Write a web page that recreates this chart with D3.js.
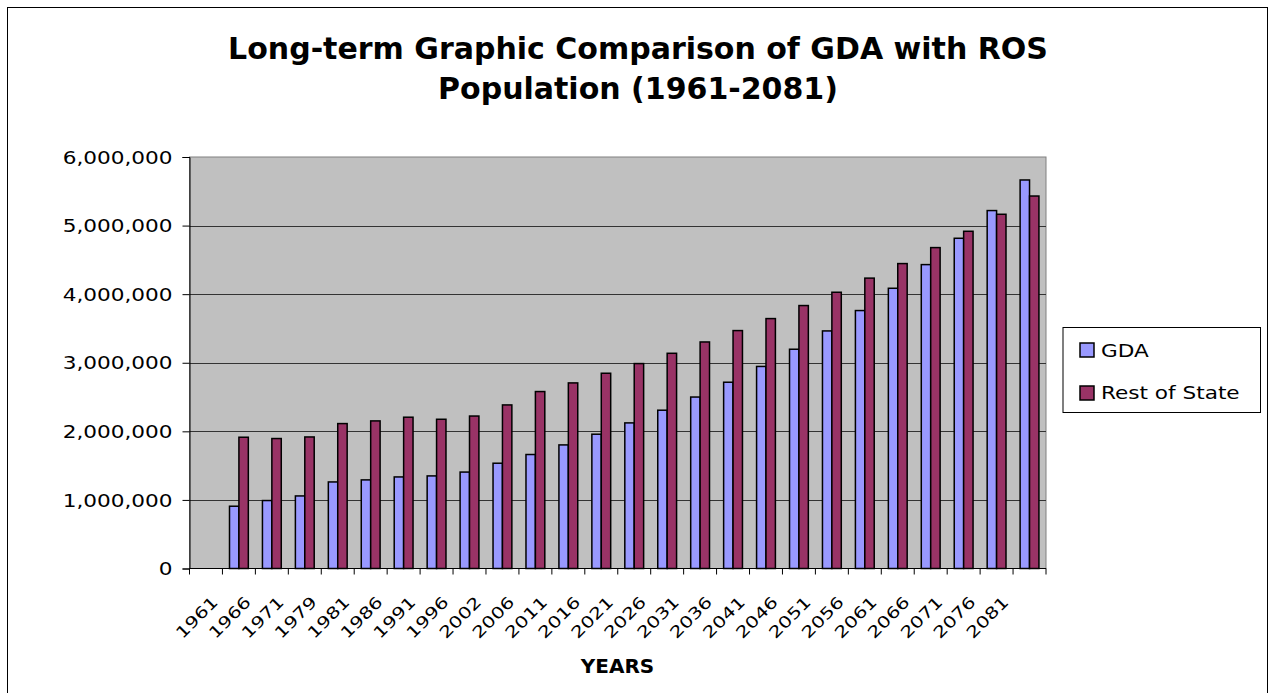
<!DOCTYPE html>
<html>
<head>
<meta charset="utf-8">
<script src="https://cdn.jsdelivr.net/npm/d3@7"></script>
<style>
  html, body { margin: 0; padding: 0; background: #fff; }
  svg { display: block; }
  text { font-family: "DejaVu Sans", Verdana, sans-serif; }
</style>
</head>
<body>
<div id="chart"></div>
<script>
// ---- data ----
// The source chart has 26 category slots: 25 year labels plus an empty last slot,
// with the series starting in the second slot (first slot empty).
const categories = ["1961","1966","1971","1979","1981","1986","1991","1996","2002","2006",
  "2011","2016","2021","2026","2031","2036","2041","2046","2051","2056",
  "2061","2066","2071","2076","2081",""];
const gda = [null, 908000, 991000, 1058000, 1262000, 1292000, 1335000, 1350000, 1406000, 1535000,
  1662000, 1802000, 1958000, 2123000, 2308000, 2500000, 2716000, 2946000, 3197000, 3464000,
  3761000, 4086000, 4431000, 4815000, 5219000, 5665000];
const restOfState = [null, 1914000, 1895000, 1918000, 2113000, 2152000, 2206000, 2176000, 2223000, 2385000,
  2580000, 2706000, 2847000, 2988000, 3138000, 3303000, 3469000, 3644000, 3834000, 4028000,
  4234000, 4446000, 4679000, 4917000, 5165000, 5431000];
const seriesNames = ["GDA", "Rest of State"];
const seriesColors = ["#9999FF", "#993366"];
const yTicks = [0, 1000000, 2000000, 3000000, 4000000, 5000000, 6000000];
const titleLines = ["Long-term Graphic Comparison of GDA with ROS", "Population (1961-2081)"];
const xTitle = "YEARS";

// ---- layout ----
const W = 1269, H = 693;
const plot = { left: 189.5, right: 1046, top: 157, bottom: 568.5 };
const SX = 1.27; // regular font is wider than DejaVu Sans

const svg = d3.select("#chart").append("svg").attr("width", W).attr("height", H);
svg.append("rect").attr("width", W).attr("height", H).attr("fill", "#fff");
svg.append("rect").attr("x", 7.5).attr("y", 7.5).attr("width", 1260).attr("height", 700)
  .attr("fill", "none").attr("stroke", "#000").attr("stroke-width", 1);

const x = d3.scaleBand().domain(categories).range([plot.left, plot.right]).padding(0);
const xs = d3.scaleBand().domain(seriesNames).range([0, x.bandwidth()])
  .paddingInner(0).paddingOuter(0.75);
const y = d3.scaleLinear().domain([0, 6000000]).range([plot.bottom, plot.top]);

// plot background
svg.append("rect").attr("x", plot.left).attr("y", plot.top)
  .attr("width", plot.right - plot.left).attr("height", plot.bottom - plot.top)
  .attr("fill", "#C0C0C0").attr("stroke", "#808080").attr("stroke-width", 1);

// gridlines
svg.append("g").selectAll("line").data(yTicks.filter(d => d > 0 && d < 6000000)).join("line")
  .attr("x1", plot.left).attr("x2", plot.right)
  .attr("y1", d => Math.round(y(d)) + 0.5).attr("y2", d => Math.round(y(d)) + 0.5)
  .attr("stroke", "#333").attr("stroke-width", 1);

// bars
const series = [gda, restOfState];
series.forEach((vals, si) => {
  svg.append("g").selectAll("rect")
    .data(categories.map((c, i) => ({ c, v: vals[i] })).filter(d => d.v != null))
    .join("rect")
    .attr("x", d => x(d.c) + xs(seriesNames[si]))
    .attr("width", xs.bandwidth())
    .attr("y", d => y(d.v))
    .attr("height", d => y(0) - y(d.v))
    .attr("fill", seriesColors[si])
    .attr("stroke", "#000").attr("stroke-width", 1.5);
});

// y axis
const yAxis = svg.append("g").attr("transform", `translate(${plot.left},0)`)
  .call(d3.axisLeft(y).tickValues(yTicks).tickFormat(d3.format(",")).tickSize(7).tickPadding(10));
yAxis.select(".domain").attr("stroke", "#000");
yAxis.selectAll(".tick line").attr("stroke", "#000");
yAxis.selectAll(".tick text")
  .attr("x", 0).attr("dy", "0.36em")
  .attr("transform", `translate(-17,0) scale(${SX},1)`)
  .attr("font-family", "DejaVu Sans").attr("font-size", 17).attr("fill", "#000");

// x axis line + ticks at category boundaries
svg.append("line").attr("x1", plot.left).attr("x2", plot.right)
  .attr("y1", plot.bottom).attr("y2", plot.bottom).attr("stroke", "#000");
const bounds = categories.map(c => x(c)).concat([plot.right]);
svg.append("g").selectAll("line").data(bounds).join("line")
  .attr("x1", d => d).attr("x2", d => d)
  .attr("y1", plot.bottom).attr("y2", plot.bottom + 6)
  .attr("stroke", "#000");

// x labels
svg.append("g").selectAll("text").data(categories.filter(c => c !== "")).join("text")
  .attr("text-anchor", "end")
  .attr("font-size", 16)
  .attr("fill", "#000")
  .attr("transform", d => `translate(${x(d) + x.bandwidth() / 2 + 13},603) rotate(-45) scale(${SX},1)`)
  .text(d => d);

// x title
svg.append("text").attr("x", 617.5).attr("y", 672.7).attr("text-anchor", "middle")
  .attr("font-weight", "bold").attr("font-size", 20).text(xTitle);

// title
svg.append("g").selectAll("text").data(titleLines).join("text")
  .attr("x", 638).attr("y", (d, i) => 58.5 + i * 40.5)
  .attr("text-anchor", "middle").attr("font-weight", "bold").attr("font-size", 30)
  .text(d => d);

// legend
const lg = svg.append("g");
lg.append("rect").attr("x", 1063).attr("y", 327.5).attr("width", 197.5).attr("height", 85)
  .attr("fill", "#fff").attr("stroke", "#000").attr("stroke-width", 1);
seriesNames.forEach((name, i) => {
  lg.append("rect").attr("x", 1080).attr("y", 343 + i * 43).attr("width", 14).attr("height", 14)
    .attr("fill", seriesColors[i]).attr("stroke", "#000").attr("stroke-width", 1.5);
  lg.append("text").attr("x", 0).attr("y", 0)
    .attr("transform", `translate(1101,${357.3 + i * 42}) scale(${SX},1)`)
    .attr("font-size", 17).attr("fill", "#000").text(name);
});
</script>
</body>
</html>
